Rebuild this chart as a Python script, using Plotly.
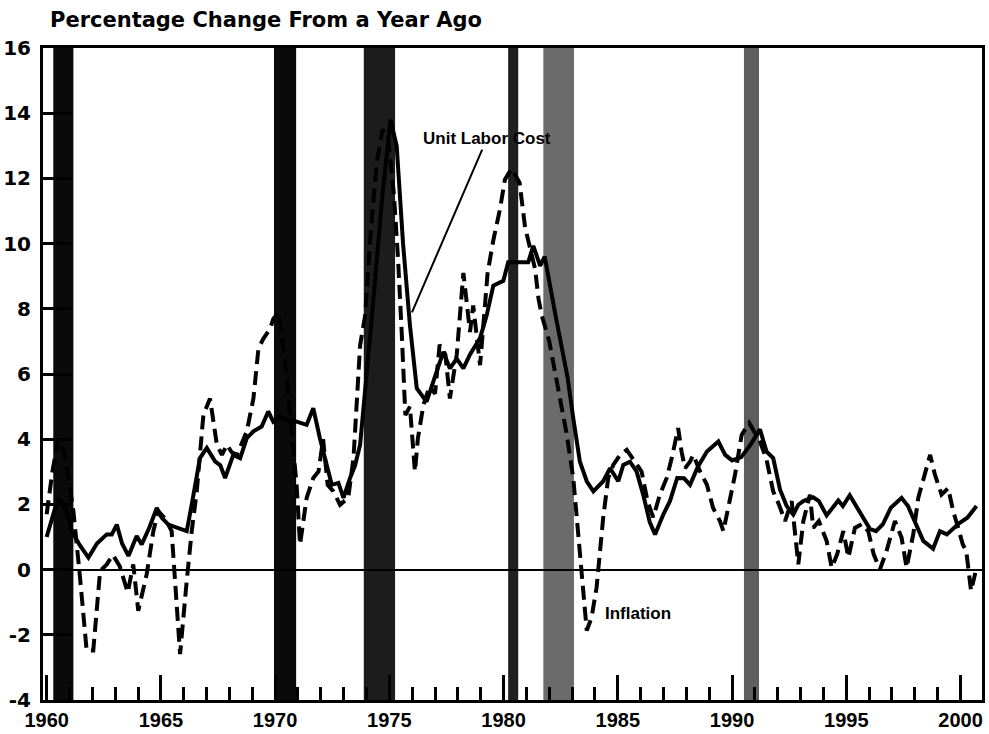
import plotly.graph_objects as go

# ---------------- data ----------------
ulc_years = [1960.00, 1960.25, 1960.50, 1960.75, 1961.00, 1961.10, 1961.45, 1961.83, 1962.20, 1962.63,
             1962.85, 1963.07, 1963.30, 1963.58, 1963.94, 1964.16, 1964.50, 1964.82, 1965.04, 1965.33,
             1965.70, 1966.13, 1966.35, 1966.71, 1967.01, 1967.37, 1967.60, 1967.81, 1968.17, 1968.47,
             1968.76, 1969.05, 1969.41, 1969.70, 1969.92, 1970.20, 1970.50, 1970.94, 1971.38, 1971.67,
             1971.96, 1972.26, 1972.48, 1972.77, 1972.99, 1973.28, 1973.50, 1973.72, 1973.95, 1974.20,
             1974.45, 1974.70, 1975.05, 1975.32, 1975.60, 1975.90, 1976.20, 1976.63, 1976.92, 1977.20,
             1977.36, 1977.65, 1977.95, 1978.24, 1978.53, 1978.97, 1979.26, 1979.55, 1979.99, 1980.20,
             1980.64, 1981.08, 1981.30, 1981.60, 1981.80, 1982.05, 1982.30, 1982.55, 1982.80, 1983.05,
             1983.34, 1983.64, 1983.93, 1984.36, 1984.66, 1985.02, 1985.24, 1985.53, 1985.82, 1986.11,
             1986.40, 1986.63, 1986.99, 1987.28, 1987.60, 1987.90, 1988.16, 1988.50, 1988.90, 1989.40,
             1989.70, 1990.00, 1990.40, 1990.80, 1991.22, 1991.51, 1991.80, 1992.10, 1992.39, 1992.68,
             1992.90, 1993.12, 1993.55, 1993.80, 1994.14, 1994.65, 1994.85, 1995.15, 1995.58, 1996.03,
             1996.30, 1996.60, 1996.95, 1997.42, 1997.70, 1998.00, 1998.37, 1998.80, 1999.10, 1999.40,
             1999.95, 2000.30, 2000.70]
ulc_values = [1.0, 1.6, 2.2, 2.0, 1.5, 1.18, 0.75, 0.37, 0.80, 1.08,
              1.08, 1.38, 0.80, 0.42, 1.03, 0.77, 1.30, 1.89, 1.59, 1.38,
              1.30, 1.18, 1.99, 3.42, 3.73, 3.32, 3.20, 2.81, 3.52, 3.42,
              4.03, 4.24, 4.39, 4.85, 4.54, 4.70, 4.60, 4.54, 4.44, 4.95,
              4.03, 3.22, 2.60, 2.66, 2.20, 2.81, 3.20, 3.83, 5.5, 7.5,
              9.5, 11.5, 13.8, 13.0, 10.0, 7.5, 5.56, 5.15, 5.76, 6.40,
              6.68, 6.17, 6.47, 6.17, 6.60, 7.10, 7.80, 8.71, 8.86, 9.43,
              9.43, 9.43, 9.93, 9.32, 9.6, 8.6, 7.7, 6.8, 5.9, 4.64,
              3.31, 2.71, 2.40, 2.71, 3.11, 2.71, 3.21, 3.31, 3.01, 2.30,
              1.45, 1.08, 1.69, 2.10, 2.81, 2.80, 2.60, 3.15, 3.62, 3.93,
              3.52, 3.35, 3.45, 3.82, 4.30, 3.62, 3.42, 2.45, 1.95, 1.69,
              1.99, 2.10, 2.22, 2.10, 1.66, 2.12, 1.95, 2.28, 1.79, 1.25,
              1.18, 1.39, 1.90, 2.20, 1.95, 1.50, 0.88, 0.64, 1.18, 1.08,
              1.43, 1.59, 1.95]

infl_years = [1960.00, 1960.25, 1960.50, 1960.75, 1961.00, 1961.17, 1961.46, 1961.75, 1962.04, 1962.34,
              1962.63, 1962.90, 1963.20, 1963.55, 1963.79, 1964.01, 1964.38, 1964.67, 1964.89, 1965.20,
              1965.47, 1965.84, 1966.13, 1966.35, 1966.57, 1966.86, 1967.15, 1967.45, 1967.67, 1967.89,
              1968.10, 1968.33, 1968.76, 1969.05, 1969.27, 1969.48, 1969.78, 1969.92, 1970.15, 1970.45,
              1970.70, 1970.94, 1971.09, 1971.38, 1971.67, 1971.90, 1972.10, 1972.30, 1972.55, 1972.84,
              1973.20, 1973.43, 1973.72, 1973.94, 1974.20, 1974.45, 1974.70, 1974.95, 1975.20, 1975.38,
              1975.54, 1975.61, 1975.70, 1975.90, 1976.12, 1976.25, 1976.49, 1976.75, 1977.00, 1977.20,
              1977.45, 1977.65, 1977.95, 1978.24, 1978.53, 1978.67, 1978.97, 1979.30, 1979.55, 1979.84,
              1980.06, 1980.35, 1980.70, 1980.94, 1981.20, 1981.38, 1981.53, 1981.67, 1982.00, 1982.25,
              1982.50, 1982.75, 1983.05, 1983.20, 1983.34, 1983.50, 1983.64, 1983.85, 1984.07, 1984.36,
              1984.58, 1984.80, 1985.10, 1985.39, 1985.82, 1986.04, 1986.30, 1986.55, 1986.84, 1987.14,
              1987.36, 1987.64, 1987.79, 1987.94, 1988.16, 1988.30, 1988.60, 1988.90, 1989.17, 1989.47,
              1989.62, 1989.83, 1990.13, 1990.42, 1990.75, 1991.22, 1991.50, 1991.80, 1992.05, 1992.32,
              1992.61, 1992.90, 1993.12, 1993.41, 1993.55, 1993.80, 1994.14, 1994.36, 1994.60, 1994.87,
              1995.09, 1995.38, 1995.70, 1995.96, 1996.20, 1996.47, 1996.76, 1997.13, 1997.42, 1997.64,
              1997.93, 1998.15, 1998.44, 1998.67, 1998.88, 1999.17, 1999.46, 1999.68, 1999.85, 2000.10,
              2000.25, 2000.46, 2000.65]
infl_values = [1.7, 3.0, 4.0, 3.6, 2.6, 1.79, -0.24, -2.48, -2.48, -0.04,
               0.16, 0.45, 0.10, -0.70, 0.16, -1.26, -0.14, 1.18, 1.79, 1.55,
               1.18, -2.59, -0.35, 1.18, 2.40, 4.74, 5.25, 3.83, 3.52, 3.83,
               3.60, 3.52, 4.24, 5.25, 6.78, 7.08, 7.39, 7.69, 7.9, 6.3,
               4.4, 2.60, 0.77, 2.20, 2.81, 3.01, 4.0, 2.60, 2.40, 1.99,
               2.20, 3.42, 6.88, 7.8, 10.5, 12.5, 13.5, 13.2, 11.5, 9.53,
               7.29, 5.77, 4.74, 5.00, 3.01, 4.03, 5.05, 5.60, 5.40, 6.90,
               6.60, 5.25, 6.60, 9.10, 7.29, 8.10, 6.27, 9.10, 10.10, 11.05,
               11.97, 12.3, 11.87, 10.50, 9.70, 9.22, 8.30, 7.80, 7.0, 6.1,
               5.2, 4.2, 2.81, 1.69, 0.47, -0.75, -1.87, -1.47, -0.55, 1.59,
               2.81, 3.21, 3.52, 3.67, 3.21, 3.01, 2.10, 1.60, 2.30, 2.81,
               3.42, 4.34, 3.62, 3.11, 3.31, 3.52, 3.01, 2.60, 1.89, 1.49,
               1.18, 1.89, 2.91, 4.13, 4.50, 3.93, 3.40, 2.40, 2.00, 1.49,
               2.10, 0.16, 1.49, 2.30, 1.28, 1.49, 0.88, 0.06, 0.47, 1.18,
               0.37, 1.28, 1.40, 1.18, 0.47, 0.00, 0.57, 1.49, 0.98, 0.06,
               1.08, 2.20, 2.91, 3.52, 2.91, 2.30, 2.50, 1.79, 1.39, 0.77,
               0.57, -0.65, -0.10]

recession_start = [1960.29, 1969.95, 1973.88, 1980.20, 1981.74, 1990.52]
recession_end = [1961.17, 1970.92, 1975.25, 1980.64, 1983.08, 1991.18]
recession_color = ["#0a0a0a", "#0a0a0a", "#1c1c1c", "#202020", "#6b6b6b", "#5e5e5e"]

x_tick_vals = [1960, 1965, 1970, 1975, 1980, 1985, 1990, 1995, 2000]
x_tick_text = ["1960", "1965", "1970", "1975", "1980", "1985", "1990", "1995", "2000"]
y_tick_vals = [-4, -2, 0, 2, 4, 6, 8, 10, 12, 14, 16]
y_tick_text = ["-4", "-2", "0", "2", "4", "6", "8", "10", "12", "14", "16"]

title_text = "Percentage Change From a Year Ago"
ulc_label = "Unit Labor Cost"
infl_label = "Inflation"

# label anchor positions (annotation placement)
ulc_label_pos = (1979.27, 13.22)
ulc_pointer = (1975.99, 7.89)
infl_label_pos = (1985.9, -1.34)

FONT = "Liberation Sans, Arial, Helvetica, sans-serif"
WIDE = "DejaVu Sans, Verdana, sans-serif"

fig = go.Figure()

for s, e, c in zip(recession_start, recession_end, recession_color):
    fig.add_shape(type="rect", xref="x", yref="paper", x0=s, x1=e, y0=0, y1=1,
                  fillcolor=c, line=dict(width=0), layer="between")

fig.add_trace(go.Scatter(x=infl_years, y=infl_values, mode="lines",
                         line=dict(color="black", width=4, dash="14px,7px"),
                         name="Inflation", showlegend=False))
fig.add_trace(go.Scatter(x=ulc_years, y=ulc_values, mode="lines",
                         line=dict(color="black", width=4),
                         name="Unit Labor Cost", showlegend=False))

fig.add_annotation(x=ulc_pointer[0], y=ulc_pointer[1], ax=ulc_label_pos[0], ay=ulc_label_pos[1],
                   axref="x", ayref="y", xref="x", yref="y",
                   text=ulc_label, showarrow=True, arrowhead=0, arrowwidth=2, arrowcolor="black",
                   font=dict(family=FONT, size=17, color="black", weight="bold"))
fig.add_annotation(x=infl_label_pos[0], y=infl_label_pos[1], xref="x", yref="y",
                   text=infl_label, showarrow=False,
                   font=dict(family=FONT, size=17, color="black", weight="bold"))

fig.update_layout(
    width=989, height=734,
    margin=dict(l=43, r=7, t=48, b=34),
    paper_bgcolor="white", plot_bgcolor="white",
    title=dict(text=title_text, x=50 / 989, xanchor="left", xref="container",
               y=1 - 20 / 734, yanchor="middle", yref="container",
               font=dict(family=WIDE, size=21, color="black", weight="bold")),
    showlegend=False,
)

fig.update_xaxes(
    range=[1959.84, 2000.94], tickmode="array", tickvals=x_tick_vals, ticktext=x_tick_text,
    ticks="inside", ticklen=25, tickwidth=3, tickcolor="black",
    minor=dict(dtick=1, tick0=1960, ticks="inside", ticklen=13, tickwidth=3, tickcolor="black", showgrid=False),
    showline=True, linewidth=3, linecolor="black", mirror=True,
    showgrid=False, zeroline=False, automargin=False, ticklabelstandoff=0,
    tickfont=dict(family=FONT, size=20, color="black", weight="bold"),
)
fig.update_yaxes(
    range=[-4, 16], tickmode="array", tickvals=y_tick_vals, ticktext=y_tick_text,
    ticks="inside", ticklen=28, tickwidth=2.5, tickcolor="black",
    showline=True, linewidth=3, linecolor="black", mirror=True,
    showgrid=False, zeroline=True, zerolinecolor="black", zerolinewidth=2,
    automargin=False, ticklabelstandoff=5,
    tickfont=dict(family=WIDE, size=20, color="black", weight="bold"),
)

fig.write_html("out.html", config={"displayModeBar": False},
               post_script="document.body.style.margin='0';document.body.style.overflow='hidden';")
